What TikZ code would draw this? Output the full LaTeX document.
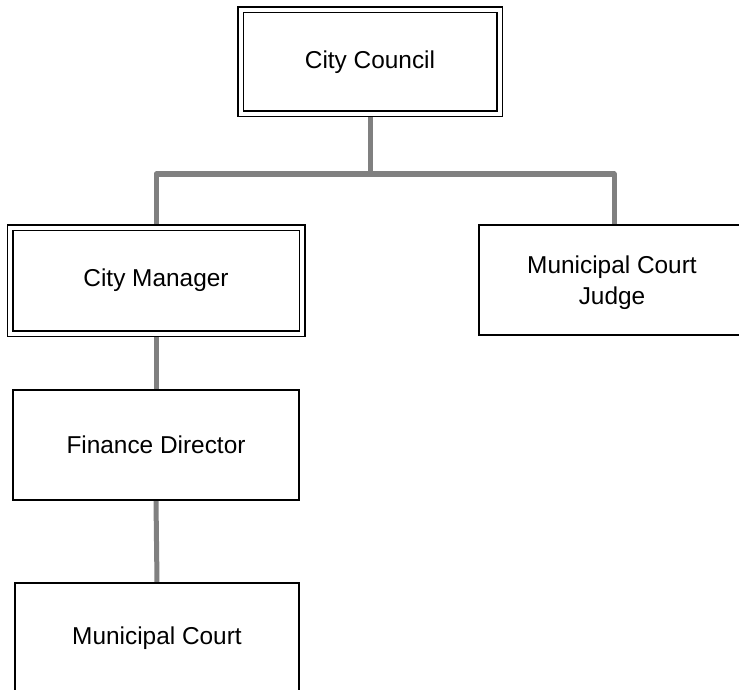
\documentclass[tikz,border=0pt]{standalone}
\usepackage{fontspec}
\setmainfont{Liberation Sans}
\usetikzlibrary{backgrounds}
\begin{document}
\begin{tikzpicture}[x=1pt,y=-1pt,
  unit/.style={draw=black,line width=1.5pt,fill=white,inner sep=0pt,
    font=\fontsize{24.4}{31}\selectfont,align=center},
  headunit/.style={unit,double=white,double distance=4pt},
  conn/.style={draw=black!50,line width=5pt,line cap=round,line join=round}]
\useasboundingbox (0,0) rectangle (739,690);
\node[headunit,minimum width=259pt,minimum height=104pt] (council) at (370,62) {City Council};
\node[headunit,minimum width=292pt,minimum height=106pt] (manager) at (156,280.5) {City Manager};
\node[unit,minimum width=270pt,minimum height=110pt] (judge) at (614,280) {};
\node[font=\fontsize{24.4}{31}\selectfont,align=center] (judgetext) at (612,283) {Municipal Court\\Judge};
\node[unit,minimum width=286pt,minimum height=110pt] (finance) at (156,445) {Finance Director};
\node[unit,minimum width=284pt,minimum height=110pt] (court) at (157,638) {Municipal Court};
\coordinate (bus) at (370,174);
\begin{pgfonlayer}{background}
\draw[conn] (council.south) -- (bus);
\draw[conn] (manager.north) |- (bus) -| (judge.north);
\draw[conn] (manager.south) -- (finance.north);
\draw[conn] (finance.south) -- (court.north);
\end{pgfonlayer}
\end{tikzpicture}
\end{document}
